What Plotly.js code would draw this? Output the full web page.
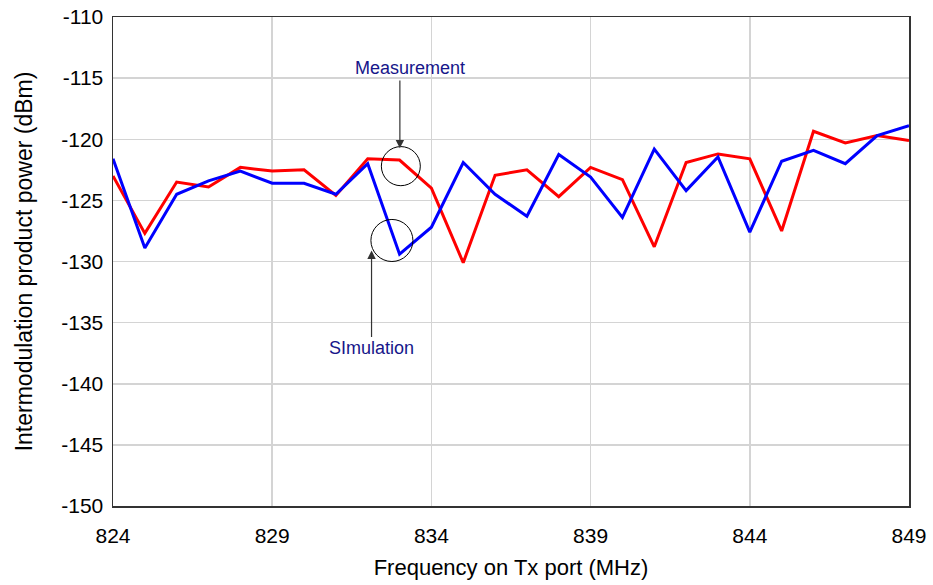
<!DOCTYPE html>
<html>
<head>
<meta charset="utf-8">
<script src="https://cdn.plot.ly/plotly-3.0.1.min.js"></script>
<style>html,body{margin:0;padding:0;background:#fff;}#chart{width:933px;height:585px;}</style>
</head>
<body>
<div id="chart"></div>
<script>
const freq = [824,825,826,827,828,829,830,831,832,833,834,835,836,837,838,839,840,841,842,843,844,845,846,847,848,849];
const measurement = [-123.0,-127.7,-123.5,-123.9,-122.3,-122.6,-122.5,-124.6,-121.6,-121.7,-124.0,-130.1,-122.95,-122.5,-124.7,-122.3,-123.3,-128.8,-121.9,-121.2,-121.6,-127.5,-119.35,-120.3,-119.7,-120.1];
const simulation = [-121.6,-128.9,-124.5,-123.4,-122.6,-123.6,-123.6,-124.5,-122.0,-129.4,-127.2,-121.9,-124.5,-126.3,-121.25,-123.1,-126.4,-120.8,-124.2,-121.45,-127.6,-121.8,-120.9,-122.0,-119.7,-118.9];
const xTicks = [824,829,834,839,844,849];
const yTicks = [-150,-145,-140,-135,-130,-125,-120,-115,-110];

const font = 'Liberation Sans, Arial, sans-serif';
const traces = [
  {x: freq, y: measurement, type: 'scatter', mode: 'lines', name: 'Measurement', line: {color: '#ff0000', width: 3}},
  {x: freq, y: simulation, type: 'scatter', mode: 'lines', name: 'Simulation', line: {color: '#0000ff', width: 3}}
];
const layout = {
  width: 933, height: 585,
  margin: {l: 113, r: 24, t: 17, b: 79},
  paper_bgcolor: '#fff', plot_bgcolor: '#fff',
  showlegend: false,
  font: {family: font, color: '#000'},
  xaxis: {
    range: [824, 849], tickvals: xTicks, ticktext: xTicks.map(String),
    showgrid: true, gridcolor: '#d4d4d4', gridwidth: 1.5,
    showline: true, linecolor: '#333', linewidth: 1.5, mirror: true,
    ticks: '', zeroline: false, ticklabelstandoff: 10,
    tickfont: {size: 21, family: font, color: '#000'},
    title: {text: 'Frequency on Tx port (MHz)', font: {size: 22, family: font, color: '#000'}, standoff: 14}
  },
  yaxis: {
    range: [-150, -110], tickvals: yTicks, ticktext: yTicks.map(String),
    showgrid: true, gridcolor: '#d4d4d4', gridwidth: 1.5,
    showline: true, linecolor: '#333', linewidth: 1.5, mirror: true,
    ticks: '', zeroline: false, ticklabelstandoff: 4,
    tickfont: {size: 21, family: font, color: '#000'},
    title: {text: 'Intermodulation product power (dBm)', font: {size: 23, family: font, color: '#000'}, standoff: 22}
  },
  shapes: [
    {type: 'circle', xref: 'x', yref: 'y', x0: 833.04-0.612, x1: 833.04+0.612, y0: -122.2-1.6, y1: -122.2+1.6, line: {color: '#000', width: 1}},
    {type: 'circle', xref: 'x', yref: 'y', x0: 832.76-0.66, x1: 832.76+0.66, y0: -128.28-1.72, y1: -128.28+1.72, line: {color: '#000', width: 1}}
  ],
  annotations: [
    {x: 833.33, y: -114.17, xref: 'x', yref: 'y', text: 'Measurement', showarrow: false, font: {size: 18, family: font, color: '#16168a'}},
    {x: 833.01, y: -120.74, ax: 833.01, ay: -115.07, xref: 'x', yref: 'y', axref: 'x', ayref: 'y', text: '', showarrow: true, arrowhead: 2, arrowsize: 1.4, arrowwidth: 1.2, arrowcolor: '#333'},
    {x: 832.12, y: -129.1, ax: 832.12, ay: -136.3, xref: 'x', yref: 'y', axref: 'x', ayref: 'y', text: '', showarrow: true, arrowhead: 2, arrowsize: 1.4, arrowwidth: 1.2, arrowcolor: '#333'},
    {x: 832.13, y: -137.1, xref: 'x', yref: 'y', text: 'SImulation', showarrow: false, font: {size: 18, family: font, color: '#16168a'}}
  ]
};
Plotly.newPlot('chart', traces, layout, {displayModeBar: false, staticPlot: true});
</script>
</body>
</html>
